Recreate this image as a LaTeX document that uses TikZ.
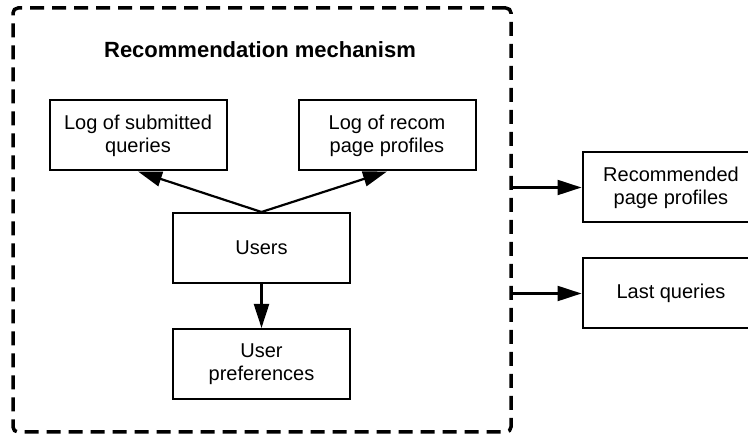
\documentclass[tikz,border=0pt]{standalone}
\usepackage{fontspec}
\setmainfont{Liberation Sans}
\usetikzlibrary{arrows.meta,positioning}
\tikzstyle{block}=[draw=black, line width=2pt, minimum width=177pt, minimum height=70pt, align=center, inner sep=2pt, font=\fontsize{20}{23}\selectfont]
\tikzstyle{mechframe}=[draw=black, line width=3.5pt, dash pattern=on 14pt off 8pt, rounded corners=5pt]
\tikzstyle{arr}=[line width=2.2pt, -{Triangle[length=24pt,width=15pt]}]
\tikzstyle{lab}=[font=\fontsize{22}{26}\selectfont\bfseries]

\begin{document}
\begin{tikzpicture}[x=1pt, y=-1pt]
      \useasboundingbox (0,0) rectangle (748,435);
      %
      \node at (262,220) [mechframe, minimum width=498pt, minimum height=424pt] (mech) {};
      \node at (260,50) [lab] (title) {Recommendation mechanism};
      %
      \node at (138,135.5) [block] (subq) {Log of submitted\\queries};
      \node at (387,135.5) [block] (recomlog) {Log of recom\\page profiles};
      \node at (261.5,248) [block] (users) {Users};
      \node at (261.5,364) [block] (prefs) {User\\preferences};
      %
      \node at (671,187.5) [block] (recpp) {Recommended\\page profiles};
      \node at (671,293.5) [block] (lastq) {Last queries};
      %
      \draw [arr] (users.north) -- (subq.south);
      \draw [arr] (users.north) -- (recomlog.south);
      \draw [arr] (users.south) -- (prefs.north);
      \draw [arr] (mech.east |- recpp.west) -- (recpp.west);
      \draw [arr] (mech.east |- lastq.west) -- (lastq.west);
    \end{tikzpicture}
\end{document}
